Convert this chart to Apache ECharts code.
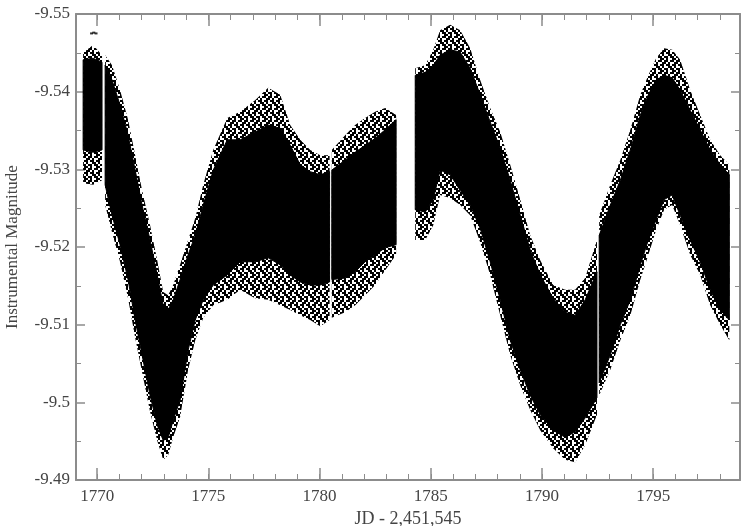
<!DOCTYPE html>
<html>
<head>
<meta charset="utf-8">
<script src="https://cdn.jsdelivr.net/npm/echarts@6/dist/echarts.min.js"></script>
<style>
  html, body { margin: 0; padding: 0; background: #fff; }
  #chart { width: 742px; height: 526px; }
</style>
</head>
<body>
<div id="chart"></div>
<script>
// Light curve: JD - 2,451,545 vs instrumental magnitude.
// Each night's photometry is summarised by a dense core band and a sparser halo band.
// null entries separate the observing runs (gaps in time coverage).
const jd = [
  1769.37, 1769.82, 1770.22, null,
  1770.36, 1770.67, 1771.03, 1771.39, 1771.71, 1772.02, 1772.38, 1772.70, 1772.97, 1773.19,
  1773.42, 1773.73, 1774.09, 1774.41, 1774.77, 1775.22, 1775.85, 1776.43, 1777.10, 1777.69,
  1778.23, 1778.68, 1779.13, 1779.58, 1780.03, 1780.45, null,
  1780.55, 1781.15, 1781.60, 1782.05, 1782.50, 1782.95, 1783.44, null,
  1784.30, 1784.75, 1785.11, 1785.42, 1785.87, 1786.32, 1786.77, 1787.22, 1787.67, 1788.12,
  1788.57, 1789.02, 1789.47, 1789.92, 1790.50, 1791.04, 1791.49, 1791.94, 1792.47, null,
  1792.57, 1793.07, 1793.52, 1793.97, 1794.42, 1794.78, 1795.13, 1795.49, 1795.85, 1796.21,
  1796.66, 1797.11, 1797.56, 1798.01, 1798.42
];
const coreBright = [
  -9.5441, -9.5443, -9.5438, null,
  -9.5434, -9.5415, -9.5383, -9.5344, -9.5299, -9.5254, -9.5209, -9.5164, -9.5125, -9.5119,
  -9.5132, -9.5158, -9.5190, -9.5215, -9.5254, -9.5299, -9.5338, -9.5338, -9.5348, -9.5357,
  -9.5353, -9.5331, -9.5306, -9.5297, -9.5293, -9.5297, null,
  -9.5299, -9.5312, -9.5322, -9.5331, -9.5340, -9.5351, -9.5364, null,
  -9.5421, -9.5425, -9.5434, -9.5447, -9.5454, -9.5451, -9.5430, -9.5396, -9.5361, -9.5327,
  -9.5286, -9.5241, -9.5196, -9.5164, -9.5134, -9.5116, -9.5112, -9.5132, -9.5168, null,
  -9.5215, -9.5254, -9.5286, -9.5325, -9.5370, -9.5396, -9.5415, -9.5421, -9.5418, -9.5402,
  -9.5376, -9.5351, -9.5325, -9.5306, -9.5293
];
const coreFaint = [
  -9.5325, -9.5322, -9.5325, null,
  -9.5280, -9.5241, -9.5203, -9.5158, -9.5106, -9.5061, -9.5009, -9.4971, -9.4951, -9.4954,
  -9.4977, -9.5003, -9.5067, -9.5106, -9.5132, -9.5151, -9.5164, -9.5181, -9.5181, -9.5186,
  -9.5177, -9.5164, -9.5155, -9.5151, -9.5151, -9.5155, null,
  -9.5158, -9.5160, -9.5168, -9.5181, -9.5190, -9.5199, -9.5203, null,
  -9.5248, -9.5245, -9.5261, -9.5299, -9.5293, -9.5273, -9.5254, -9.5224, -9.5181, -9.5132,
  -9.5080, -9.5042, -9.5009, -9.4984, -9.4964, -9.4955, -9.4962, -9.4980, -9.5006, null,
  -9.5025, -9.5061, -9.5100, -9.5132, -9.5177, -9.5209, -9.5235, -9.5261, -9.5267, -9.5241,
  -9.5209, -9.5181, -9.5145, -9.5119, -9.5106
];
const haloBright = [
  -9.5450, -9.5460, -9.5447, null,
  -9.5447, -9.5434, -9.5402, -9.5364, -9.5318, -9.5273, -9.5228, -9.5183, -9.5142, -9.5138,
  -9.5151, -9.5177, -9.5209, -9.5237, -9.5280, -9.5325, -9.5366, -9.5374, -9.5389, -9.5405,
  -9.5396, -9.5357, -9.5338, -9.5325, -9.5318, -9.5318, null,
  -9.5325, -9.5344, -9.5357, -9.5366, -9.5374, -9.5379, -9.5370, null,
  -9.5430, -9.5434, -9.5454, -9.5479, -9.5486, -9.5479, -9.5456, -9.5415, -9.5379, -9.5348,
  -9.5306, -9.5261, -9.5215, -9.5183, -9.5151, -9.5145, -9.5145, -9.5160, -9.5209, null,
  -9.5241, -9.5280, -9.5312, -9.5351, -9.5396, -9.5421, -9.5443, -9.5456, -9.5454, -9.5441,
  -9.5402, -9.5370, -9.5338, -9.5318, -9.5306
];
const haloFaint = [
  -9.5282, -9.5280, -9.5286, null,
  -9.5254, -9.5219, -9.5181, -9.5134, -9.5083, -9.5039, -9.4988, -9.4951, -9.4926, -9.4932,
  -9.4955, -9.4981, -9.5042, -9.5080, -9.5109, -9.5125, -9.5132, -9.5145, -9.5134, -9.5132,
  -9.5125, -9.5119, -9.5112, -9.5106, -9.5098, -9.5106, null,
  -9.5109, -9.5116, -9.5125, -9.5138, -9.5151, -9.5170, -9.5190, null,
  -9.5209, -9.5209, -9.5228, -9.5267, -9.5263, -9.5254, -9.5241, -9.5206, -9.5164, -9.5112,
  -9.5061, -9.5022, -9.4990, -9.4964, -9.4941, -9.4926, -9.4923, -9.4945, -9.4984, null,
  -9.5009, -9.5042, -9.5080, -9.5112, -9.5158, -9.5190, -9.5222, -9.5248, -9.5254, -9.5228,
  -9.5190, -9.5164, -9.5125, -9.5100, -9.5080
];
// a few isolated measurements above the first run
const strayJd = [1769.75, 1769.85, 1769.95];
const strayMag = [-9.5475, -9.5476, -9.5475];

// axis ticks
const xTicks = [1770, 1775, 1780, 1785, 1790, 1795];
const xMinorTicks = [1770, 1771, 1772, 1773, 1774, 1775, 1776, 1777, 1778, 1779, 1780, 1781, 1782,
  1783, 1784, 1785, 1786, 1787, 1788, 1789, 1790, 1791, 1792, 1793, 1794, 1795, 1796, 1797, 1798];
const yMin = -9.55, yMax = -9.49, yStep = 0.01;
const xMin = 1769.05, xMax = 1798.9;

// split the arrays into runs at the null separators
const runs = [];
let start = null;
for (let i = 0; i <= jd.length; i++) {
  if (i < jd.length && jd[i] !== null) { if (start === null) start = i; }
  else if (start !== null) { runs.push([start, i - 1]); start = null; }
}

// stipple tile for the sparse halo of points (2px dots)
const stippleRows = [
  '101101', '011010', '110110', '010011', '101101', '110100'
];
const stipple = document.createElement('canvas');
stipple.width = 12; stipple.height = 12;
(function () {
  const g = stipple.getContext('2d');
  g.fillStyle = '#000';
  stippleRows.forEach((row, r) => {
    for (let c = 0; c < row.length; c++) {
      if (row[c] === '1') g.fillRect(c * 2, r * 2, 2, 2);
    }
  });
})();
const stippleFill = { image: stipple, repeat: 'repeat' };

function bandRenderer(bright, faint, fill, stroke) {
  return function (params, api) {
    const r = runs[params.dataIndex];
    const pts = [];
    for (let i = r[0]; i <= r[1]; i++) pts.push(api.coord([jd[i], bright[i]]));
    for (let i = r[1]; i >= r[0]; i--) pts.push(api.coord([jd[i], faint[i]]));
    return {
      type: 'polygon',
      shape: { points: pts },
      style: { fill: fill, stroke: stroke, lineWidth: stroke ? 1 : 0 }
    };
  };
}

const runData = runs.map(r => [jd[r[0]], coreBright[r[0]]]);

const axisGray = '#8c8c8c';
const labelFont = { fontFamily: 'Liberation Serif, Times New Roman, serif', fontSize: 17, color: '#444' };
const plain = v => String(Math.round(v));

const chart = echarts.init(document.getElementById('chart'), null, { renderer: 'canvas' });
chart.setOption({
  animation: false,
  backgroundColor: '#fff',
  grid: { left: 76, right: 2, top: 14, bottom: 46, containLabel: false, outerBoundsMode: 'none' },
  xAxis: [
    {
      type: 'value', position: 'bottom', min: xMin, max: xMax,
      axisLine: { show: true, onZero: false, lineStyle: { color: axisGray, width: 2 } },
      axisTick: { show: true, inside: true, length: 12, customValues: xTicks, lineStyle: { color: axisGray, width: 1.5 } },
      axisLabel: Object.assign({ customValues: xTicks, margin: 8, formatter: plain }, labelFont),
      splitLine: { show: false },
      name: 'JD - 2,451,545', nameLocation: 'middle', nameGap: 27,
      nameTextStyle: Object.assign({}, labelFont, { fontSize: 18 })
    },
    {
      type: 'value', position: 'bottom', min: xMin, max: xMax,
      axisLine: { show: false, onZero: false },
      axisTick: { show: true, inside: true, length: 6, customValues: xMinorTicks, lineStyle: { color: axisGray, width: 1 } },
      axisLabel: { show: false }, splitLine: { show: false }
    },
    {
      type: 'value', position: 'top', min: xMin, max: xMax,
      axisLine: { show: true, onZero: false, lineStyle: { color: axisGray, width: 2 } },
      axisTick: { show: true, inside: true, length: 12, customValues: xTicks, lineStyle: { color: axisGray, width: 1.5 } },
      axisLabel: { show: false }, splitLine: { show: false }
    },
    {
      type: 'value', position: 'top', min: xMin, max: xMax,
      axisLine: { show: false, onZero: false },
      axisTick: { show: true, inside: true, length: 6, customValues: xMinorTicks, lineStyle: { color: axisGray, width: 1 } },
      axisLabel: { show: false }, splitLine: { show: false }
    }
  ],
  yAxis: [
    {
      type: 'value', position: 'left', inverse: true, min: yMin, max: yMax, interval: yStep,
      axisLine: { show: true, onZero: false, lineStyle: { color: axisGray, width: 2 } },
      axisTick: { show: true, inside: true, length: 9, lineStyle: { color: axisGray, width: 1.5 } },
      minorTick: { show: true, splitNumber: 2, length: 5, lineStyle: { color: axisGray, width: 1 } },
      axisLabel: Object.assign({ margin: 6 }, labelFont),
      splitLine: { show: false },
      name: 'Instrumental Magnitude', nameLocation: 'middle', nameGap: 55, nameRotate: 90,
      nameTextStyle: Object.assign({}, labelFont, { fontSize: 17 })
    },
    {
      type: 'value', position: 'right', inverse: true, min: yMin, max: yMax, interval: yStep,
      axisLine: { show: true, onZero: false, lineStyle: { color: axisGray, width: 2 } },
      axisTick: { show: true, inside: true, length: 9, lineStyle: { color: axisGray, width: 1.5 } },
      minorTick: { show: true, splitNumber: 2, length: 5, lineStyle: { color: axisGray, width: 1 } },
      axisLabel: { show: false }, splitLine: { show: false }
    }
  ],
  series: [
    {
      name: 'halo', type: 'custom', xAxisIndex: 0, yAxisIndex: 0,
      renderItem: bandRenderer(haloBright, haloFaint, stippleFill, null),
      data: runData, clip: true, silent: true
    },
    {
      name: 'core', type: 'custom', xAxisIndex: 0, yAxisIndex: 0,
      renderItem: bandRenderer(coreBright, coreFaint, '#000', '#000'),
      data: runData, clip: true, silent: true
    },
    {
      name: 'stray', type: 'scatter', xAxisIndex: 0, yAxisIndex: 0,
      symbol: 'rect', symbolSize: [3, 2], itemStyle: { color: '#000' },
      data: strayJd.map((x, i) => [x, strayMag[i]]), silent: true
    }
  ]
});
</script>
</body>
</html>
